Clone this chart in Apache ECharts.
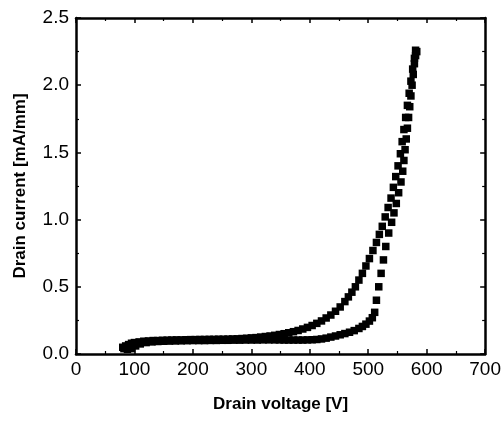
<!DOCTYPE html>
<html>
<head>
<meta charset="utf-8">
<script src="https://cdn.jsdelivr.net/npm/echarts@6/dist/echarts.min.js"></script>
<style>
html,body{margin:0;padding:0;background:#fff;}
#chart{width:504px;height:423px;}
</style>
</head>
<body>
<div id="chart"></div>
<script>
// Upper branch of the hysteresis loop
var upVoltage = [80,85,90,95,100,108,116,124,132,140,148,156,164,172,180,188,196,204,212,220,228,236,244,252,260,268,276,284,292,300,308,316,324,332,340,348,356,364,372,380,388,396,404,412,420,428,436,444,452,460,466,472,478,484,490,496,502,508,514,519,524,529,534,539,543,547,551,555,558,561,564,567,570,573,576,579,581];
var upCurrent = [0.05,0.06,0.07,0.08,0.085,0.09,0.095,0.097,0.1,0.1,0.102,0.103,0.104,0.105,0.105,0.106,0.107,0.107,0.108,0.108,0.109,0.109,0.11,0.11,0.111,0.112,0.113,0.115,0.117,0.12,0.122,0.126,0.13,0.134,0.139,0.145,0.151,0.158,0.166,0.175,0.186,0.198,0.212,0.228,0.246,0.268,0.29,0.318,0.35,0.39,0.425,0.46,0.5,0.55,0.6,0.655,0.71,0.77,0.83,0.89,0.95,1.02,1.09,1.16,1.24,1.32,1.4,1.49,1.58,1.67,1.76,1.85,1.94,2.03,2.12,2.2,2.26];
// Lower branch of the hysteresis loop
var downVoltage = [82,88,95,102,110,120,130,140,150,160,170,180,190,200,210,220,230,240,250,260,270,280,290,300,310,320,330,340,348,356,364,372,380,388,396,404,412,420,428,436,444,452,460,468,476,484,490,496,502,507,511,514,518,522,526,530,535,540,544,548,552,556,559,561,563,565,567,569,571,573,575,577,579,581,583];
var downCurrent = [0.04,0.035,0.04,0.06,0.075,0.085,0.09,0.093,0.095,0.096,0.097,0.098,0.099,0.1,0.1,0.1,0.101,0.101,0.102,0.102,0.103,0.103,0.104,0.104,0.104,0.105,0.105,0.105,0.105,0.104,0.104,0.104,0.104,0.104,0.105,0.106,0.108,0.112,0.118,0.126,0.134,0.143,0.152,0.162,0.174,0.19,0.205,0.222,0.245,0.27,0.31,0.4,0.5,0.6,0.7,0.8,0.9,0.98,1.05,1.12,1.2,1.28,1.36,1.44,1.52,1.6,1.68,1.76,1.84,1.92,2.0,2.08,2.16,2.22,2.25];
var xTicks = [0,100,200,300,400,500,600,700];
var yTicks = [0.0,0.5,1.0,1.5,2.0,2.5];

function pairs(xs, ys){ return xs.map(function(x,i){ return [x, ys[i]]; }); }

var FONT = '"Liberation Sans", Arial, sans-serif';
var black = '#000';
function baseAxis(extra){
  var a = {
    type: 'value',
    axisLine: {show: true, onZero: false, lineStyle: {color: black, width: 2.5}},
    axisTick: {show: true, inside: true, length: 5, lineStyle: {color: black, width: 1.5}},
    minorTick: {show: true, splitNumber: 2, length: 3, lineStyle: {color: black, width: 1.2}},
    splitLine: {show: false},
    minorSplitLine: {show: false}
  };
  for (var k in extra) a[k] = extra[k];
  return a;
}

var chart = echarts.init(document.getElementById('chart'), null, {renderer: 'canvas'});
chart.setOption({
  animation: false,
  backgroundColor: '#fff',
  grid: {left: 76, right: 17, top: 18, bottom: 69, containLabel: false},
  xAxis: [
    baseAxis({
      position: 'bottom', min: xTicks[0], max: xTicks[xTicks.length-1], interval: 100,
      axisLabel: {show: true, color: black, fontSize: 19, fontFamily: FONT, margin: 6},
      name: 'Drain voltage [V]', nameLocation: 'middle', nameGap: 42,
      nameTextStyle: {color: black, fontSize: 17, fontWeight: 'bold', fontFamily: FONT}
    }),
    baseAxis({
      position: 'top', min: xTicks[0], max: xTicks[xTicks.length-1], interval: 100,
      axisLabel: {show: false}
    })
  ],
  yAxis: [
    baseAxis({
      position: 'left', min: yTicks[0], max: yTicks[yTicks.length-1], interval: 0.5,
      axisLabel: {show: true, color: black, fontSize: 19, fontFamily: FONT, margin: 7,
        formatter: function(v){ return v.toFixed(1); }},
      name: 'Drain current [mA/mm]', nameLocation: 'middle', nameGap: 47,
      nameTextStyle: {color: black, fontSize: 17, fontWeight: 'bold', fontFamily: FONT}
    }),
    baseAxis({
      position: 'right', min: yTicks[0], max: yTicks[yTicks.length-1], interval: 0.5,
      axisLabel: {show: false}
    })
  ],
  series: [
    {type: 'scatter', xAxisIndex: 0, yAxisIndex: 0, symbol: 'rect', symbolSize: 7.5,
     itemStyle: {color: black, opacity: 1}, data: pairs(upVoltage, upCurrent)},
    {type: 'scatter', xAxisIndex: 0, yAxisIndex: 0, symbol: 'rect', symbolSize: 7.5,
     itemStyle: {color: black, opacity: 1}, data: pairs(downVoltage, downCurrent)}
  ]
});
</script>
</body>
</html>
